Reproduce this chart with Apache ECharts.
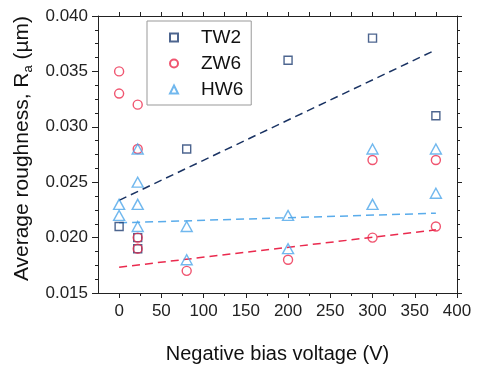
<!DOCTYPE html>
<html>
<head>
<meta charset="utf-8">
<script src="https://cdn.jsdelivr.net/npm/echarts@6/dist/echarts.min.js"></script>
<style>html,body{margin:0;padding:0;background:#fff;}#c{width:478px;height:369px;}</style>
</head>
<body>
<div id="c"></div>
<script>
// ---- data ----
const xMajorTicks = [0, 50, 100, 150, 200, 250, 300, 350, 400];
const xMinorTicks = [25, 75, 125, 175, 225, 275, 325, 375];
const xTopTicks = [0, 25, 50, 75, 100, 125, 150, 175, 200, 225, 250, 275, 300, 325, 350, 375];

const tw2X = [0, 22, 22, 80, 200, 300, 375];
const tw2Y = [0.021, 0.020, 0.019, 0.028, 0.036, 0.038, 0.031];

const zw6X = [0, 0, 22, 22, 22, 22, 80, 200, 300, 300, 375, 375];
const zw6Y = [0.035, 0.033, 0.032, 0.028, 0.020, 0.019, 0.017, 0.018, 0.027, 0.020, 0.027, 0.021];

const hw6X = [0, 0, 22, 22, 22, 22, 80, 80, 200, 200, 300, 300, 375, 375];
const hw6Y = [0.023, 0.022, 0.028, 0.025, 0.023, 0.021, 0.021, 0.018, 0.022, 0.019, 0.028, 0.023, 0.028, 0.024];

const fitX = [0, 375];
const tw2Fit = [0.02336, 0.03695];
const zw6Fit = [0.01733, 0.0207];
const hw6Fit = [0.02133, 0.0222];

const pair = (xs, ys) => xs.map((x, i) => [x, ys[i]]);

const cNavy = '#213f73', cRed = '#ec2a4c', cBlue = '#4ea6ea';
const font = 'Liberation Sans, Arial, sans-serif';
const axisCol = '#222';

const chart = echarts.init(document.getElementById('c'));
const grid = {left: 98, right: 21, top: 16, bottom: 66};

function scatter(name, data, symbol, size, color) {
  return {
    name, type: 'scatter', data, symbol, symbolSize: size,
    itemStyle: {color: 'rgba(255,255,255,0)', borderColor: color, borderWidth: 1.4},
    z: 3
  };
}
function fit(data, color, z) {
  return {
    type: 'line', data, symbol: 'none', silent: true, z: z || 2,
    lineStyle: {color, width: 1.5, type: [8, 5]}
  };
}

chart.setOption({
  backgroundColor: '#fff',
  animation: false,
  grid,
  legend: {
    orient: 'vertical', left: 147, top: 21,
    backgroundColor: '#fff',
    borderColor: '#999', borderWidth: 1,
    padding: [6, 8, 5, 22],
    itemWidth: 8, itemHeight: 8, itemGap: 5,
    textStyle: {fontFamily: font, fontSize: 19, color: '#111', lineHeight: 21, padding: [0, 0, 0, 18]},
    data: [{name: 'TW2'}, {name: 'ZW6'}, {name: 'HW6'}]
  },
  xAxis: [
    {
      type: 'value', min: -25, max: 400, position: 'bottom',
      name: 'Negative bias voltage (V)', nameLocation: 'middle', nameGap: 51,
      nameTextStyle: {fontFamily: font, fontSize: 20, color: '#111'},
      axisLine: {show: true, onZero: false, lineStyle: {color: axisCol, width: 1}},
      axisTick: {show: true, customValues: xMajorTicks, length: 5, lineStyle: {color: axisCol}},
      axisLabel: {customValues: xMajorTicks, fontFamily: font, fontSize: 17, color: '#222', margin: 10},
      splitLine: {show: false}
    },
    {
      type: 'value', min: -25, max: 400, position: 'bottom',
      axisLine: {show: false, onZero: false},
      axisTick: {show: true, customValues: xMinorTicks, length: 3, lineStyle: {color: axisCol}},
      axisLabel: {show: false}, splitLine: {show: false}
    },
    {
      type: 'value', min: -25, max: 400, position: 'top',
      axisLine: {show: true, onZero: false, lineStyle: {color: axisCol, width: 1}},
      axisTick: {show: true, customValues: xTopTicks, length: 4, lineStyle: {color: axisCol}},
      axisLabel: {show: false}, splitLine: {show: false}
    }
  ],
  yAxis: [
    {
      type: 'value', min: 0.015, max: 0.040, interval: 0.005, position: 'left',
      name: '{t|Average roughness, R}{s|a}{t| (µm)}', nameLocation: 'middle', nameGap: 60,
      nameTextStyle: {
        padding: [0, 0, 0, 12],
        rich: {
          t: {fontFamily: font, fontSize: 21, color: '#111', lineHeight: 24},
          s: {fontFamily: font, fontSize: 13, color: '#111', lineHeight: 12, verticalAlign: 'bottom'}
        }
      },
      axisLine: {show: true, onZero: false, lineStyle: {color: axisCol, width: 1}},
      axisTick: {show: true, length: 6, lineStyle: {color: axisCol}},
      minorTick: {show: true, splitNumber: 4, length: 3, lineStyle: {color: axisCol}},
      axisLabel: {fontFamily: font, fontSize: 17, color: '#222', margin: 10, formatter: v => v.toFixed(3)},
      splitLine: {show: false}, minorSplitLine: {show: false}
    },
    {
      type: 'value', min: 0.015, max: 0.040, interval: 0.005, position: 'right',
      axisLine: {show: true, onZero: false, lineStyle: {color: axisCol, width: 1}},
      axisTick: {show: true, length: 5, lineStyle: {color: axisCol}},
      minorTick: {show: true, splitNumber: 4, length: 3, lineStyle: {color: axisCol}},
      axisLabel: {show: false}, splitLine: {show: false}
    }
  ],
  series: [
    fit(pair(fitX, tw2Fit), '#1a3363'),
    fit(pair(fitX, hw6Fit), '#5aaceb'),
    fit(pair(fitX, zw6Fit), '#ea2a4e'),
    scatter('TW2', pair(tw2X, tw2Y), 'rect', 8, cNavy),
    scatter('ZW6', pair(zw6X, zw6Y), 'circle', 9, cRed),
    scatter('HW6', pair(hw6X, hw6Y), 'triangle', [11, 10], cBlue)
  ]
});
</script>
</body>
</html>
